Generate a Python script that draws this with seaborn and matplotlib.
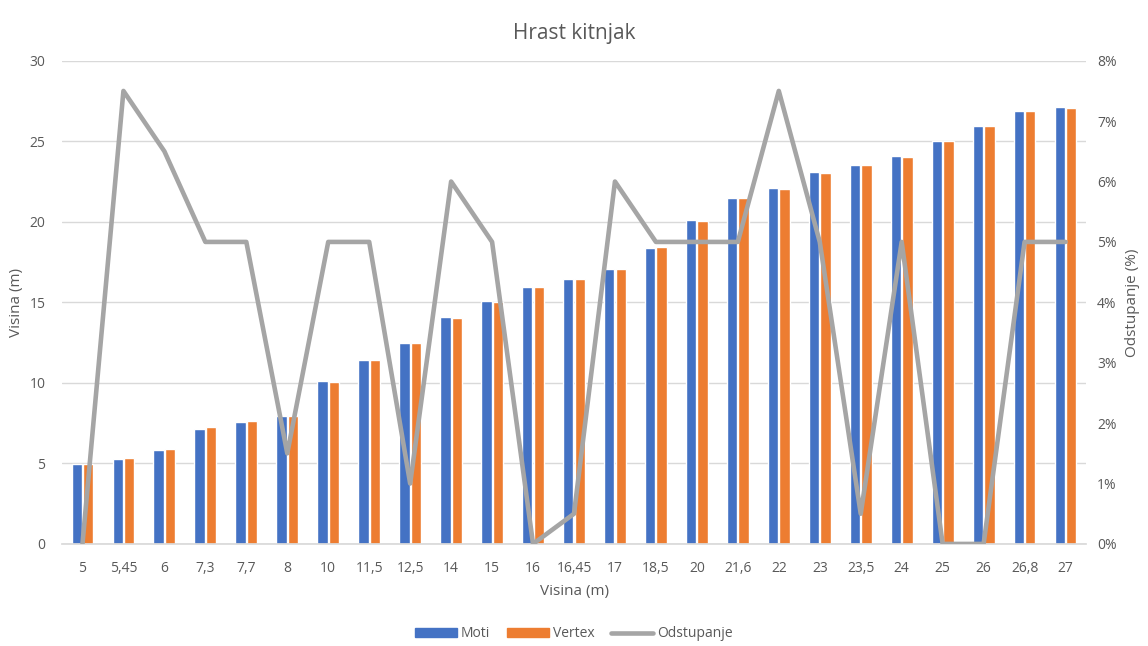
import numpy as np
import pandas as pd
import matplotlib.pyplot as plt
import seaborn as sns
from matplotlib.ticker import PercentFormatter
from matplotlib.patches import Patch
from matplotlib.lines import Line2D

categories = ["5", "5,45", "6", "7,3", "7,7", "8", "10", "11,5", "12,5", "14", "15", "16", "16,45",
              "17", "18,5", "20", "21,6", "22", "23", "23,5", "24", "25", "26", "26,8", "27"]
moti = [4.95, 5.3, 5.85, 7.15, 7.55, 7.95, 10.1, 11.4, 12.5, 14.1, 15.1, 15.95, 16.45,
        17.1, 18.35, 20.1, 21.5, 22.1, 23.1, 23.5, 24.1, 25.0, 25.95, 26.9, 27.1]
vertex = [4.95, 5.35, 5.9, 7.25, 7.65, 7.95, 10.05, 11.45, 12.5, 14.05, 15.05, 15.95, 16.45,
          17.05, 18.45, 20.05, 21.5, 22.05, 23.05, 23.5, 24.05, 25.0, 25.95, 26.85, 27.05]
odstupanje = [0, 7.5, 6.5, 5, 5, 1.5, 5, 5, 1, 6, 5, 0, 0.5,
              6, 5, 5, 5, 7.5, 5, 0.5, 5, 0, 0, 5, 5]

BLUE, ORANGE, GREY, TXT = "#4472C4", "#ED7D31", "#A5A5A5", "#595959"


def main():
    sns.set_theme(style="white")
    plt.rcParams["font.family"] = ["Open Sans", "DejaVu Sans"]

    df = pd.DataFrame({
        "Visina": categories * 2,
        "val": moti + vertex,
        "serija": ["Moti"] * len(categories) + ["Vertex"] * len(categories),
    })

    fig, ax = plt.subplots(figsize=(11.48, 6.46), dpi=100)
    fig.subplots_adjust(left=0.054, right=0.946, top=0.906, bottom=0.158)

    sns.barplot(data=df, x="Visina", y="val", hue="serija", order=categories,
                palette=[BLUE, ORANGE], width=0.56, gap=0.1, ax=ax, legend=False,
                saturation=1)
    ax.set_ylim(0, 30)
    ax.set_yticks(range(0, 31, 5))
    ax.set_xlim(-0.5, len(categories) - 0.5)
    ax.yaxis.grid(True, color="#D9D9D9", linewidth=1)
    ax.set_axisbelow(True)
    for s in ["top", "right", "left"]:
        ax.spines[s].set_visible(False)
    ax.spines["bottom"].set_color("#D9D9D9")
    ax.tick_params(axis="both", colors=TXT, labelsize=10, length=0)
    ax.tick_params(axis="x", pad=12)
    ax.tick_params(axis="y", pad=12)
    ax.set_xlabel("Visina (m)", color=TXT, fontsize=11, labelpad=6)
    ax.set_ylabel("Visina (m)", color=TXT, fontsize=11, labelpad=4)

    ax2 = ax.twinx()
    sns.lineplot(x=np.arange(len(categories)), y=odstupanje, color=GREY, linewidth=3.3,
                 ax=ax2, legend=False)
    ax2.set_ylim(0, 8)
    ax2.set_yticks(range(0, 9))
    ax2.yaxis.set_major_formatter(PercentFormatter(decimals=0))
    for s in ["top", "right", "left", "bottom"]:
        ax2.spines[s].set_visible(False)
    ax2.tick_params(axis="y", colors=TXT, labelsize=10, length=0, pad=8)
    ax2.set_ylabel("Odstupanje (%)", color=TXT, fontsize=11, labelpad=6)
    ax2.grid(False)

    ax.set_title("Hrast kitnjak", color=TXT, fontsize=15, pad=16)

    handles = [Patch(color=BLUE, label="Moti"), Patch(color=ORANGE, label="Vertex"),
               Line2D([0], [0], color=GREY, linewidth=3.3, label="Odstupanje")]
    fig.legend(handles=handles, loc="lower center", ncol=3, frameon=False,
               bbox_to_anchor=(0.5, -0.012), fontsize=10, labelcolor=TXT,
               handlelength=3.0, handleheight=0.6, columnspacing=1.2, handletextpad=0.3)

    fig.savefig("out.png", dpi=100)


if __name__ == "__main__":
    main()
